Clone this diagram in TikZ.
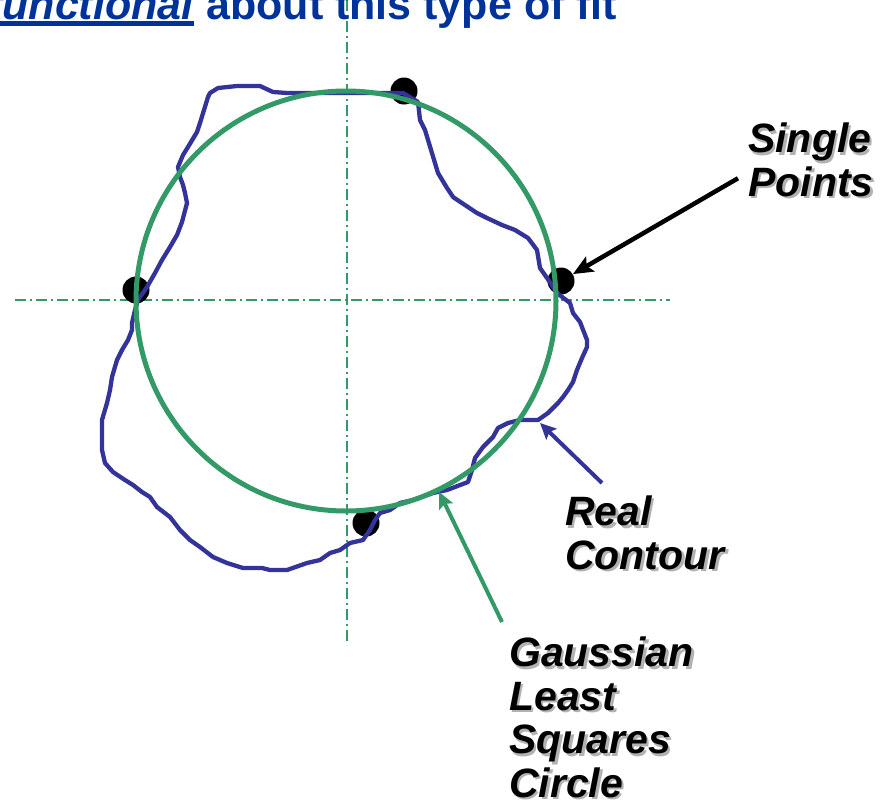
\documentclass[tikz,border=0pt]{standalone}
\usepackage{fontspec}
\setmainfont{Liberation Sans}
\usetikzlibrary{arrows.meta,positioning}
\definecolor{contour}{HTML}{333399}
\definecolor{lsqgreen}{HTML}{339966}
\definecolor{titleblue}{HTML}{003399}
\newsavebox\ulbox
\newcommand{\thickul}[1]{\sbox\ulbox{#1}\rlap{\rule[-7pt]{\wd\ulbox}{5pt}}\usebox\ulbox}
\newcommand{\shadowed}[1]{\leavevmode\rlap{\kern2.5pt\raisebox{-2.5pt}{\textcolor{black!30}{#1}}}#1}

\begin{document}
\begin{tikzpicture}[x=1pt, y=-1pt,
      axis/.style={lsqgreen, line width=1.8pt, dash pattern=on 11pt off 4pt on 2pt off 4pt},
      dot/.style={circle, fill=black, minimum size=27pt, inner sep=0pt},
      callout/.style={font=\fontsize{41}{43.5}\selectfont\bfseries\itshape, align=left, anchor=north west, inner sep=0pt},
      pointer/.style={line width=4.5pt, -{Stealth[length=20pt, width=17pt, inset=4pt]}},
      smallpointer/.style={line width=4pt, -{Stealth[length=16pt, width=15pt, inset=3pt]}}]
    \useasboundingbox (0,0) rectangle (881,801);
    \draw[axis] (15,300) -- (670,300);
    \draw[axis] (347,0) -- (347,645);
    \node[font=\fontsize{43}{45}\selectfont\bfseries, text=titleblue, anchor=base west, inner sep=0pt] (title) at (-12,19) {\thickul{\textit{functional}} about this type of fit};
    \foreach \name/\px/\py in {top/404/91, left/136/290, right/561/281, bottom/366/523} {
      \node[dot] (pt-\name) at (\px,\py) {};
    }
    \draw[contour, line width=4.3pt, line join=round] plot coordinates {
      (210,93) (218,88) (237,86) (260,86) (273,92) (287,93) (313,93) (403,93) (418,102) (420,120)
      (425,130) (438,173) (447,188) (453,197) (477,213) (487,218) (502,225) (515,230) (528,238) (537,250)
      (540,268) (547,278) (557,293) (570,303) (573,313) (580,322) (587,340) (587,347) (582,358) (577,370)
      (573,382) (568,390) (563,397) (558,403) (548,413) (538,420) (520,420) (508,423) (498,428) (493,437)
      (483,447) (475,458) (472,470) (468,482) (447,490) (433,493) (413,500) (400,503) (390,510) (380,513)
      (375,520) (370,530) (363,540) (350,543) (340,550) (330,553) (320,560) (307,563) (287,570) (270,570)
      (262,568) (243,568) (227,563) (213,557) (200,547) (190,540) (180,530) (170,517) (157,507) (150,497)
      (142,492) (133,485) (125,480) (113,472) (105,463) (102,450) (102,420) (107,403) (110,390) (112,377)
      (117,360) (122,350) (128,340) (132,330) (132,323) (135,310) (138,300) (147,287) (155,273) (162,260)
      (170,247) (177,235) (182,222) (187,203) (185,193) (183,185) (180,177) (178,167) (183,155) (188,147)
      (197,132) (200,123) (208,97)} -- cycle;
    \node[draw=lsqgreen, line width=5pt, circle, minimum size=420pt, inner sep=0pt] (lsq) at (346,301) {};
    \node[callout] (single) at (748,123) {\shadowed{Single}\\\shadowed{Points}};
    \node[callout] (real) at (565,496) {\shadowed{Real}\\\shadowed{Contour}};
    \node[callout] (gauss) at (509,637) {\shadowed{Gaussian}\\\shadowed{Least}\\\shadowed{Squares}\\\shadowed{Circle}};
    \coordinate (contour-tip) at (540,423);
    \draw[pointer] ([xshift=-10pt, yshift=-17pt]single.west) -- (pt-right);
    \draw[smallpointer, contour] ([xshift=37pt, yshift=13pt]real.north west) -- (contour-tip);
    \draw[smallpointer, lsqgreen] ([xshift=-7pt, yshift=15pt]gauss.north west) -- (lsq.-64.5);
  \end{tikzpicture}
\end{document}
